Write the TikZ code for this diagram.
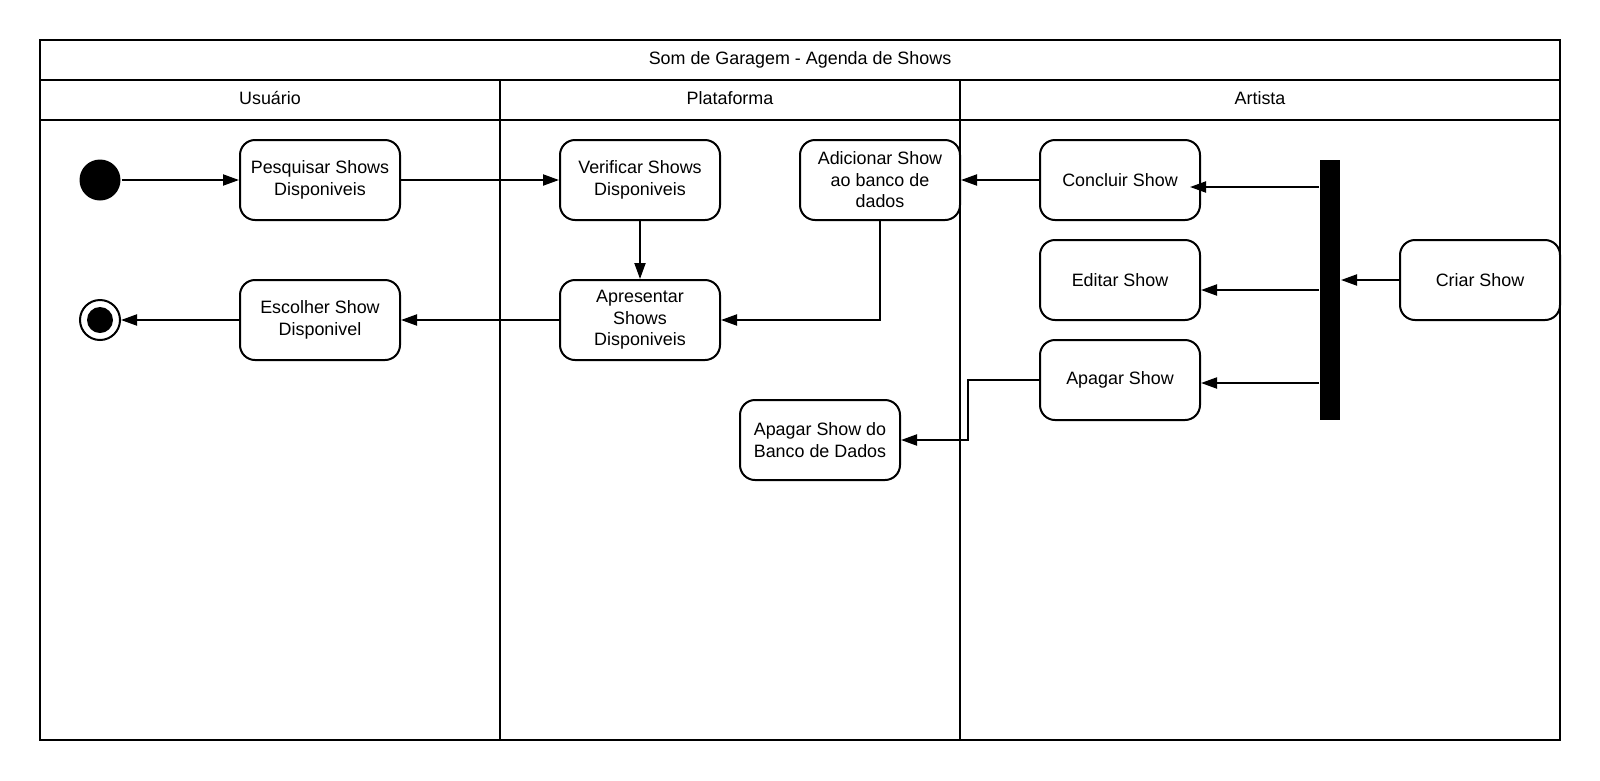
\documentclass[tikz,border=0pt]{standalone}
\usepackage{fontspec}
\setmainfont{Liberation Sans}
\usetikzlibrary{arrows.meta,calc}
\begin{document}
\begin{tikzpicture}[x=1pt,y=-1pt,line width=2pt,
  txt/.style={font=\fontsize{17.9}{21.5}\selectfont},
  action/.style={txt,draw,rounded corners=15pt,minimum width=160pt,minimum height=80pt,align=center,inner sep=2pt},
  flow/.style={-{Triangle[length=16pt,width=11pt]},line width=2pt}]
\useasboundingbox (0,0) rectangle (1600,780);

% pool frame, title band and swimlanes
\draw (40,40) rectangle (1560,740);
\draw (40,80) -- (1560,80);
\draw (40,120) -- (1560,120);
\draw (500,80) -- (500,740);
\draw (960,80) -- (960,740);
\node[txt] (title) at (800,60) {Som de Garagem - Agenda de Shows};
\node[txt] (laneU) at (270,98) {Usuário};
\node[txt] (laneP) at (730,98) {Plataforma};
\node[txt] (laneA) at (1260,98) {Artista};

% start and end states
\node[circle,fill,minimum size=41pt,inner sep=0] (init) at (100,180) {};
\node[circle,draw,minimum size=40pt,inner sep=0] (final) at (100,320) {};
\fill (final.center) circle (13pt);

% actions
\node[action] (pesq)   at (320,180) {Pesquisar Shows\\Disponiveis};
\node[action] (escol)  at (320,320) {Escolher Show\\Disponivel};
\node[action] (verif)  at (640,180) {Verificar Shows\\Disponiveis};
\node[action] (apres)  at (640,320) {Apresentar\\Shows\\Disponiveis};
\node[action] (adic)   at (880,180) {Adicionar Show\\ao banco de\\dados};
\node[action] (apagdb) at (820,440) {Apagar Show do\\Banco de Dados};
\node[action] (concl)  at (1120,180) {Concluir Show};
\node[action] (edit)   at (1120,280) {Editar Show};
\node[action] (apag)   at (1120,380) {Apagar Show};
\node[action] (criar)  at (1480,280) {Criar Show};

% fork bar
\node[fill,minimum width=20pt,minimum height=260pt,inner sep=0] (fork) at (1330,290) {};

% user / platform flow
\draw[flow] (init) -- (pesq);
\draw[flow] (pesq) -- (verif);
\draw[flow] (verif) -- (apres);
\draw[flow] (adic.south) |- (apres.east);
\draw[flow] (apres) -- (escol);
\draw[flow] (escol) -- (final);

% artist flow
\draw[flow] (criar.west) -- (criar.west -| fork.east);
\coordinate (fkC) at ($(fork.west)+(0,-103)$);
\coordinate (inC) at ($(concl.east)+(-11,7)$);
\draw[flow] (fkC) -- (inC);
\draw[flow] (fork.west) -- (fork.west -| edit.east);
\coordinate (fkA) at ($(fork.west)+(0,93)$);
\draw[flow] (fkA) -- (fkA -| apag.east);
\draw[flow] (concl) -- (adic);
\draw[flow] (apag.west) -- ++(-71,0) |- (apagdb.east);
\end{tikzpicture}
\end{document}
